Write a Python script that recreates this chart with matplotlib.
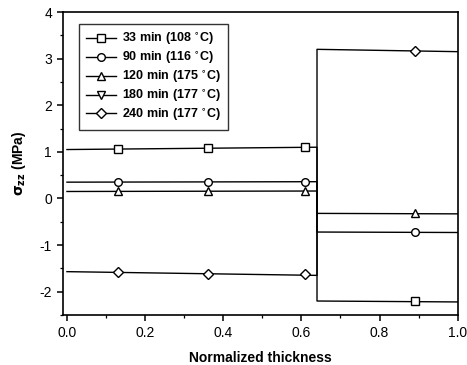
import matplotlib
matplotlib.use("Agg")
import matplotlib.pyplot as plt
from matplotlib.ticker import MultipleLocator
from matplotlib.lines import Line2D

plt.rcParams['font.family'] = ['Liberation Sans', 'DejaVu Sans']
plt.rcParams['axes.unicode_minus'] = False

# step profile: line points (x) and marker points (x)
line_x = [0.0, 0.64, 0.64, 1.0]
mark_x = [0.13, 0.36, 0.61, 0.89]

labels = ["33 min (108 $^{\\circ}$C)", "90 min (116 $^{\\circ}$C)", "120 min (175 $^{\\circ}$C)",
          "180 min (177 $^{\\circ}$C)", "240 min (177 $^{\\circ}$C)"]
markers = ["s", "o", "^", "v", "D"]

line_y = [
    [1.05, 1.10, -2.20, -2.22],
    [0.35, 0.36, -0.72, -0.73],
    [0.15, 0.16, -0.32, -0.33],
    [],
    [-1.57, -1.65, 3.20, 3.15],
]
mark_y = [
    [1.06, 1.08, 1.10, -2.21],
    [0.35, 0.35, 0.36, -0.72],
    [0.15, 0.15, 0.16, -0.32],
    [],
    [-1.58, -1.61, -1.63, 3.16],
]

fig = plt.figure(figsize=(4.67, 3.65), dpi=100)
ax = fig.add_axes([0.135, 0.137, 0.845, 0.83])

handles = []
for i in range(len(labels)):
    ms = 5 if markers[i] == "D" else 5.5
    if line_y[i]:
        ax.plot(line_x, line_y[i], color="black", lw=1)
        ax.plot(mark_x, mark_y[i], ls="none", marker=markers[i], ms=ms,
                mfc="white", mec="black", mew=1)
    handles.append(Line2D([], [], color="black", lw=1, marker=markers[i], ms=ms,
                          mfc="white", mec="black", mew=1))

ax.set_xlim(-0.01, 1.0)
ax.set_ylim(-2.5, 4)
ax.xaxis.set_major_locator(MultipleLocator(0.2))
ax.xaxis.set_minor_locator(MultipleLocator(0.1))
ax.yaxis.set_major_locator(MultipleLocator(1))
ax.yaxis.set_minor_locator(MultipleLocator(0.5))
ax.tick_params(which="major", direction="out", length=4.5, width=1.1, labelsize=10)
ax.tick_params(which="minor", direction="out", length=2.5, width=0.9)
for s in ax.spines.values():
    s.set_linewidth(1.2)

ax.set_xlabel("Normalized thickness", fontsize=10, fontweight="bold", labelpad=8)
ax.set_ylabel("$\\mathbf{\\sigma_{zz}}$ (MPa)", fontsize=10, fontweight="bold", labelpad=8)

leg = ax.legend(handles, labels, loc="upper left", bbox_to_anchor=(0.025, 0.98),
                prop={"weight": "bold", "size": 9}, frameon=True,
                fancybox=False, edgecolor="black", handlelength=2.4,
                handletextpad=0.5, labelspacing=0.22, borderpad=0.55)
leg.get_frame().set_linewidth(1)

fig.savefig("out.png", dpi=100)
